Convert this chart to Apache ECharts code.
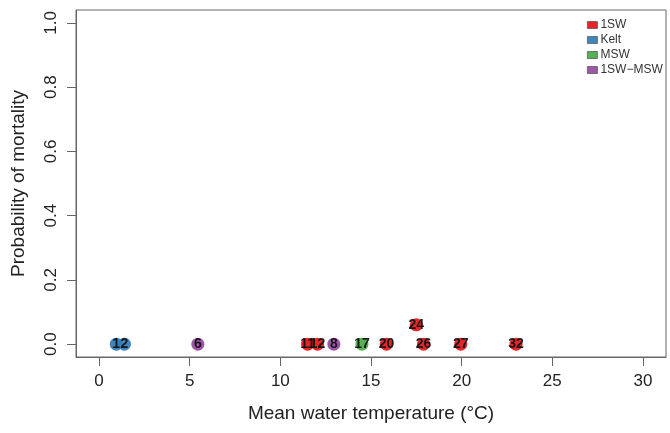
<!DOCTYPE html>
<html><head><meta charset="utf-8">
<script src="https://cdn.jsdelivr.net/npm/echarts@6/dist/echarts.min.js"></script>
<style>html,body{margin:0;padding:0;background:#fff}#c{width:670px;height:433px}</style>
</head><body><div id="c"></div>
<script>
// Data
const seriesNames = ["1SW", "Kelt", "MSW", "1SW\u2212MSW"];
const seriesColors = ["#e41a1c", "#377eb8", "#4daf4a", "#984ea3"];
const sw1_x = [11.5, 12.05, 15.85, 17.5, 17.9, 19.95, 23.0];
const sw1_y = [0, 0, 0, 0.06, 0, 0, 0];
const sw1_id = ["11", "12", "20", "24", "26", "27", "32"];
const kelt_x = [0.95, 1.4];
const kelt_y = [0, 0];
const kelt_id = ["1", "2"];
const msw_x = [14.5];
const msw_y = [0];
const msw_id = ["17"];
const swmsw_x = [5.45, 12.95];
const swmsw_y = [0, 0];
const swmsw_id = ["6", "8"];
const xTicks = [0, 5, 10, 15, 20, 25, 30];
const yTicks = [0, 0.2, 0.4, 0.6, 0.8, 1.0];

const groups = [
  [sw1_x, sw1_y, sw1_id],
  [kelt_x, kelt_y, kelt_id],
  [msw_x, msw_y, msw_id],
  [swmsw_x, swmsw_y, swmsw_id]
];

const font = "'Liberation Sans', Arial, sans-serif";
const chart = echarts.init(document.getElementById('c'));
chart.setOption({
  animation: false,
  grid: { left: 76, right: 4, top: 10, bottom: 76, show: true, borderColor: '#666', borderWidth: 1, backgroundColor: 'transparent' },
  legend: {
    orient: 'vertical', left: 582, top: 14, itemWidth: 10, itemHeight: 7, itemGap: 3,
    icon: 'rect',
    textStyle: { fontSize: 12, color: '#333', fontFamily: font, padding: [0, 0, 0, -2] },
    data: seriesNames.map((n, i) => ({ name: n, itemStyle: { color: seriesColors[i], borderColor: '#555', borderWidth: 0.8 } }))
  },
  xAxis: {
    type: 'value', min: -1.27, max: 31.27,
    name: 'Mean water temperature (\u00b0C)', nameLocation: 'middle', nameGap: 47,
    nameTextStyle: { fontSize: 19, color: '#222', fontFamily: font },
    axisLine: { show: true, onZero: false, lineStyle: { color: '#666' } },
    axisTick: { show: true, inside: false, customValues: xTicks, length: 9, lineStyle: { color: '#666' } },
    axisLabel: { customValues: xTicks, margin: 16, fontSize: 17, color: '#222', fontFamily: font },
    splitLine: { show: false }
  },
  yAxis: {
    type: 'value', min: -0.04, max: 1.04,
    name: 'Probability of mortality', nameLocation: 'middle', nameGap: 48,
    nameTextStyle: { fontSize: 19, color: '#222', fontFamily: font },
    axisLine: { show: true, onZero: false, lineStyle: { color: '#666' } },
    axisTick: { show: true, inside: false, customValues: yTicks, length: 9, lineStyle: { color: '#666' } },
    axisLabel: { customValues: yTicks, rotate: 90, margin: 16, fontSize: 17, color: '#222', fontFamily: font,
      formatter: v => v.toFixed(1) },
    splitLine: { show: false }
  },
  series: groups.map((g, i) => ({
    name: seriesNames[i], type: 'scatter', symbolSize: 13,
    itemStyle: { color: seriesColors[i], opacity: 0.95 },
    label: { show: true, position: 'inside', formatter: p => p.value[2], fontSize: 14, fontWeight: 'bold', color: '#111', fontFamily: font },
    data: g[0].map((x, k) => [x, g[1][k], g[2][k]])
  }))
});
</script></body></html>
